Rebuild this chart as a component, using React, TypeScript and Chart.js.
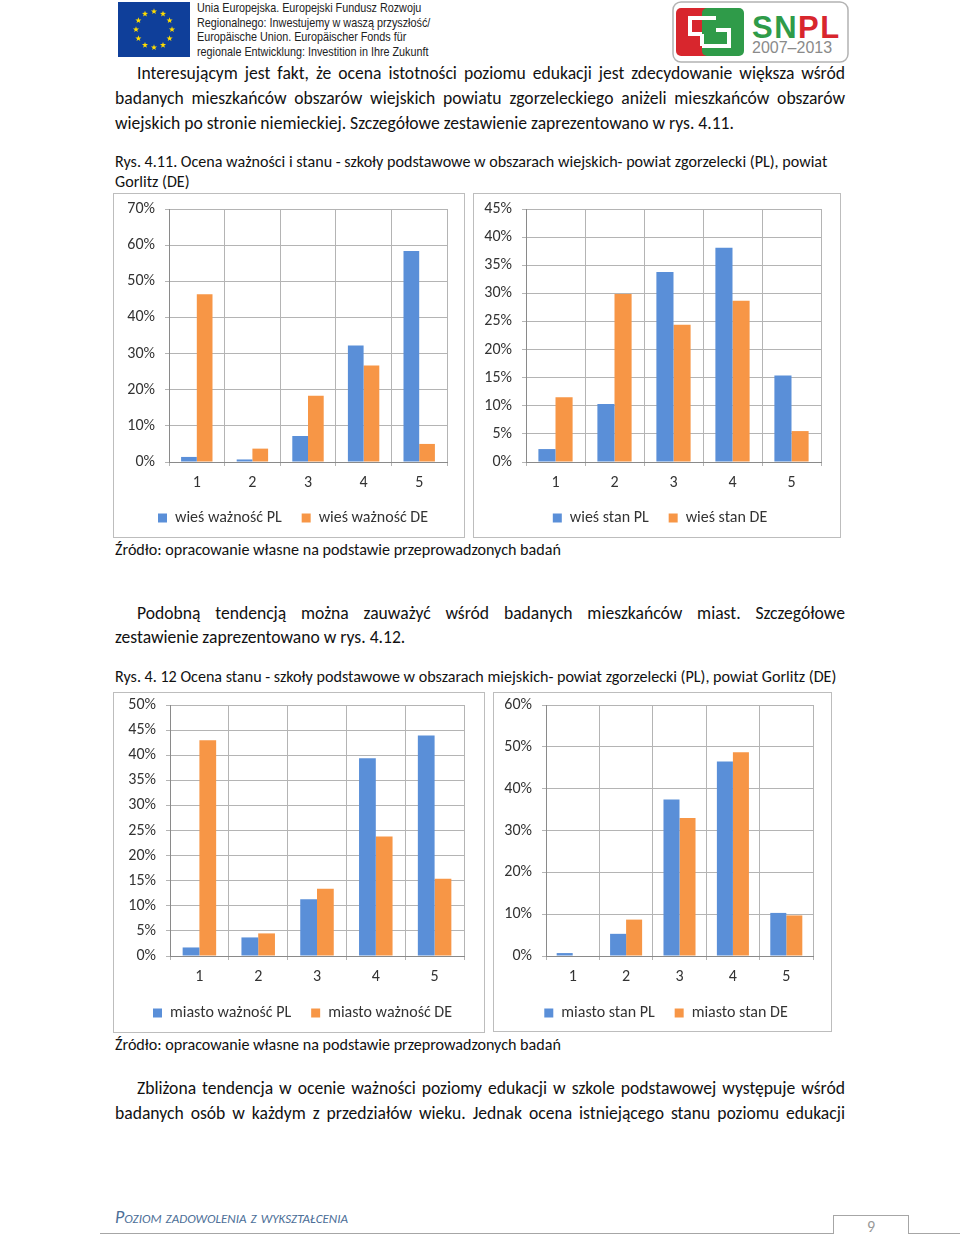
import React, { useEffect, useRef } from 'react';
import { Chart, registerables } from 'chart.js';

Chart.register(...registerables);

// ---------- data ----------
const categories = ['1', '2', '3', '4', '5'];

const ruralImportancePL = [1.4, 0.7, 7.2, 32.2, 58.4];
const ruralImportanceDE = [46.4, 3.7, 18.3, 26.7, 5.0];
const ruralStatePL = [2.3, 10.3, 33.8, 38.1, 15.4];
const ruralStateDE = [11.5, 29.9, 24.4, 28.7, 5.5];
const urbanImportancePL = [1.7, 3.7, 11.3, 39.4, 43.9];
const urbanImportanceDE = [43.0, 4.5, 13.4, 23.8, 15.4];
const urbanStatePL = [0.7, 5.3, 37.4, 46.5, 10.3];
const urbanStateDE = [0, 8.7, 33.0, 48.7, 9.7];

const ruralImportanceLabels = ['wieś ważność PL', 'wieś ważność DE'];
const ruralStateLabels = ['wieś stan PL', 'wieś stan DE'];
const urbanImportanceLabels = ['miasto ważność PL', 'miasto ważność DE'];
const urbanStateLabels = ['miasto stan PL', 'miasto stan DE'];

const BLUE = '#5a8fd8';
const ORANGE = '#f79646';
const FONT = "Carlito, Lato, 'Open Sans', sans-serif";

// shifts the bottom legend sideways (Excel centres it on the chart area, not on the canvas)
const legendShift = {
  id: 'legendShift',
  afterLayout(chart: any, _args: any, opts: any) {
    const l = chart.legend;
    if (l && opts && opts.dx) {
      l.left += opts.dx;
      l.right += opts.dx;
    }
  },
};

type BarProps = {
  left: number; top: number; width: number; height: number; legendDx: number;
  yWidth: number; padTop: number; padRight: number; padBottom: number; xHeight: number;
  max: number; step: number; pl: number[]; de: number[]; names: string[]; pct: number;
};

function BarChart(p: BarProps) {
  const ref = useRef<HTMLCanvasElement>(null);
  useEffect(() => {
    if (!ref.current) return;
    const chart = new Chart(ref.current, {
      type: 'bar',
      data: {
        labels: categories,
        datasets: [
          { label: p.names[0], data: p.pl, backgroundColor: BLUE, borderWidth: 0, categoryPercentage: p.pct, barPercentage: 1 },
          { label: p.names[1], data: p.de, backgroundColor: ORANGE, borderWidth: 0, categoryPercentage: p.pct, barPercentage: 1 },
        ],
      },
      plugins: [legendShift as any],
      options: {
        animation: false,
        responsive: false,
        maintainAspectRatio: false,
        devicePixelRatio: 1,
        layout: { padding: { top: p.padTop, right: p.padRight, bottom: p.padBottom, left: 0 } },
        plugins: {
          tooltip: { enabled: false },
          legendShift: { dx: p.legendDx },
          legend: {
            position: 'bottom',
            labels: {
              boxWidth: 9, boxHeight: 9, padding: 20, color: '#333',
              font: { family: FONT, size: 16 },
            },
          },
        } as any,
        scales: {
          x: {
            grid: { color: '#b4b4b4', tickLength: 4, offset: true, drawTicks: true },
            border: { color: '#8a8a8a' },
            ticks: { color: '#333', padding: 7, font: { family: FONT, size: 16 } },
            afterFit: (s: any) => { s.height = p.xHeight; s.paddingLeft = 0; s.paddingRight = 0; },
          },
          y: {
            min: 0, max: p.max,
            grid: { color: '#b4b4b4', tickLength: 4 },
            border: { color: '#8a8a8a' },
            ticks: {
              stepSize: p.step, color: '#333', padding: 10,
              font: { family: FONT, size: 16 },
              callback: (v: any) => v + '%',
            },
            afterFit: (s: any) => { s.width = p.yWidth; s.paddingTop = 0; s.paddingBottom = 0; },
          },
        },
      },
    });
    return () => chart.destroy();
  }, []);
  return (
    <div style={{ position: 'absolute', left: p.left, top: p.top, width: p.width, height: p.height, border: '1px solid #bdbdbd', boxSizing: 'border-box' }}>
      <canvas ref={ref} width={p.width} height={p.height} style={{ position: 'absolute', left: -1, top: -1, width: p.width, height: p.height }} />
    </div>
  );
}

type LineProps = { x: number; y: number; w?: number; text: string; size?: number; justify?: boolean; lh?: number };
function Line({ x, y, w, text, size = 17.6, justify = false, lh = 24 }: LineProps) {
  const style: any = {
    position: 'absolute', left: x, top: y - lh / 2, lineHeight: lh + 'px', fontSize: size,
    fontFamily: FONT, color: '#111', whiteSpace: 'nowrap',
  };
  if (w) style.width = w;
  if (justify) { style.textAlign = 'justify'; style.textAlignLast = 'justify'; }
  return <div style={style}>{text}</div>;
}

function EuFlag() {
  const stars = [];
  for (let i = 0; i < 12; i++) {
    const a = (i / 12) * Math.PI * 2;
    const cx = 36 + 18 * Math.cos(a);
    const cy = 27.5 + 18 * Math.sin(a);
    const pts: string[] = [];
    for (let k = 0; k < 10; k++) {
      const r = k % 2 === 0 ? 3.2 : 1.3;
      const b = -Math.PI / 2 + (k * Math.PI) / 5;
      pts.push(`${(cx + r * Math.cos(b)).toFixed(2)},${(cy + r * Math.sin(b)).toFixed(2)}`);
    }
    stars.push(<polygon key={i} points={pts.join(' ')} fill="#ffdd00" />);
  }
  return (
    <svg style={{ position: 'absolute', left: 118, top: 2 }} width={72} height={55}>
      <rect x={0} y={0} width={72} height={55} fill="#0f3f9a" />
      {stars}
    </svg>
  );
}

function SnplLogo() {
  return (
    <svg style={{ position: 'absolute', left: 672, top: 1 }} width={177} height={62}>
      <rect x={1} y={1} width={175} height={60} rx={8} fill="#fff" stroke="#b3b3b3" strokeWidth={1.5} />
      <rect x={4} y={7} width={41} height={48} rx={5} fill="#d8262d" />
      <rect x={30} y={7} width={42} height={48} rx={5} fill="#2f9b49" />
      <path d="M44 17 H18 V33 H30" fill="none" stroke="#fff" strokeWidth={4} />
      <path d="M30 45 H57 V29 H44" fill="none" stroke="#fff" strokeWidth={4} />
      <path d="M30 33 V45" fill="none" stroke="#fff" strokeWidth={4} />
      <text x={80} y={37} fontFamily="'Liberation Sans', Arial, sans-serif" fontWeight="bold" fontSize={31} letterSpacing={1.5}>
        <tspan fill="#2f9b49">SN</tspan><tspan fill="#d8262d">PL</tspan>
      </text>
      <text x={80} y={52} fontFamily="'Liberation Sans', Arial, sans-serif" fontSize={16} fill="#8a8a8a">2007–2013</text>
    </svg>
  );
}

const headerLines = [
  'Unia Europejska. Europejski Fundusz Rozwoju',
  'Regionalnego: Inwestujemy w waszą przyszłość/',
  'Europäische Union. Europäischer Fonds für',
  'regionale Entwicklung: Investition in Ihre Zukunft',
];

export default function App() {
  return (
    <div style={{ position: 'absolute', left: 0, top: 0, width: 960, height: 1236, background: '#fff', overflow: 'hidden' }}>
      <EuFlag />
      {headerLines.map((t, i) => (
        <div key={i} style={{
          position: 'absolute', left: 197, top: 0 + i * 14.7, fontSize: 13, lineHeight: '15px',
          fontFamily: "'Liberation Sans', Arial, sans-serif", color: '#222', whiteSpace: 'nowrap',
          transform: 'scaleX(0.83)', transformOrigin: 'left top',
        }}>{t}</div>
      ))}
      <SnplLogo />

      <Line x={137} y={73} w={708} justify text="Interesującym jest fakt, że ocena istotności poziomu edukacji jest zdecydowanie większa wśród" />
      <Line x={115} y={98} w={730} justify text="badanych mieszkańców obszarów wiejskich powiatu zgorzeleckiego aniżeli mieszkańców obszarów" />
      <Line x={115} y={123} text="wiejskich po stronie niemieckiej. Szczegółowe zestawienie zaprezentowano w rys. 4.11." />

      <Line x={115} y={162} size={16.1} lh={20} text="Rys. 4.11. Ocena ważności i stanu - szkoły podstawowe w obszarach wiejskich- powiat zgorzelecki (PL), powiat" />
      <Line x={115} y={182} size={16.1} lh={20} text="Gorlitz (DE)" />

      <BarChart left={113} top={193} width={352} height={345} legendDx={13} yWidth={56} padTop={16} padRight={18} padBottom={2} xHeight={28}
        max={70} step={10} pl={ruralImportancePL} de={ruralImportanceDE} names={ruralImportanceLabels} pct={0.565} />
      <BarChart left={473} top={193} width={368} height={345} legendDx={13} yWidth={53} padTop={16} padRight={20} padBottom={2} xHeight={28}
        max={45} step={5} pl={ruralStatePL} de={ruralStateDE} names={ruralStateLabels} pct={0.58} />

      <Line x={115} y={550} size={16.1} lh={20} text="Źródło: opracowanie własne na podstawie przeprowadzonych badań" />

      <Line x={137} y={613} w={708} justify text="Podobną tendencją można zauważyć wśród badanych mieszkańców miast. Szczegółowe" />
      <Line x={115} y={637} text="zestawienie zaprezentowano w rys. 4.12." />

      <Line x={115} y={677} size={16.1} lh={20} text="Rys. 4. 12 Ocena stanu - szkoły podstawowe w obszarach miejskich- powiat zgorzelecki (PL), powiat Gorlitz (DE)" />

      <BarChart left={113} top={692} width={372} height={341} legendDx={14} yWidth={57} padTop={13} padRight={21} padBottom={2} xHeight={29}
        max={50} step={5} pl={urbanImportancePL} de={urbanImportanceDE} names={urbanImportanceLabels} pct={0.57} />
      <BarChart left={493} top={692} width={339} height={340} legendDx={13} yWidth={53} padTop={13} padRight={19} padBottom={1} xHeight={29}
        max={60} step={10} pl={urbanStatePL} de={urbanStateDE} names={urbanStateLabels} pct={0.6} />

      <Line x={115} y={1045} size={16.1} lh={20} text="Źródło: opracowanie własne na podstawie przeprowadzonych badań" />

      <Line x={137} y={1088} w={708} justify text="Zbliżona tendencja w ocenie ważności poziomy edukacji w szkole podstawowej występuje wśród" />
      <Line x={115} y={1113} w={730} justify text="badanych osób w każdym z przedziałów wieku. Jednak ocena istniejącego stanu poziomu edukacji" />

      <div style={{
        position: 'absolute', left: 115, top: 1207, fontSize: 18, lineHeight: '20px', fontFamily: FONT,
        fontStyle: 'italic', fontVariant: 'small-caps', color: '#4d6f98', whiteSpace: 'nowrap',
      }}>Poziom zadowolenia z wykształcenia</div>

      <div style={{ position: 'absolute', left: 100, top: 1233, width: 733, height: 1, background: '#a6a6a6' }} />
      <div style={{ position: 'absolute', left: 909, top: 1233, width: 51, height: 1, background: '#a6a6a6' }} />
      <div style={{ position: 'absolute', left: 833, top: 1215, width: 76, height: 19, borderTop: '1px solid #a6a6a6', borderLeft: '1px solid #a6a6a6', borderRight: '1px solid #a6a6a6', boxSizing: 'border-box' }} />
      <div style={{ position: 'absolute', left: 833, top: 1218, width: 76, textAlign: 'center', fontSize: 16, lineHeight: '18px', fontFamily: FONT, color: '#999' }}>9</div>
    </div>
  );
}
